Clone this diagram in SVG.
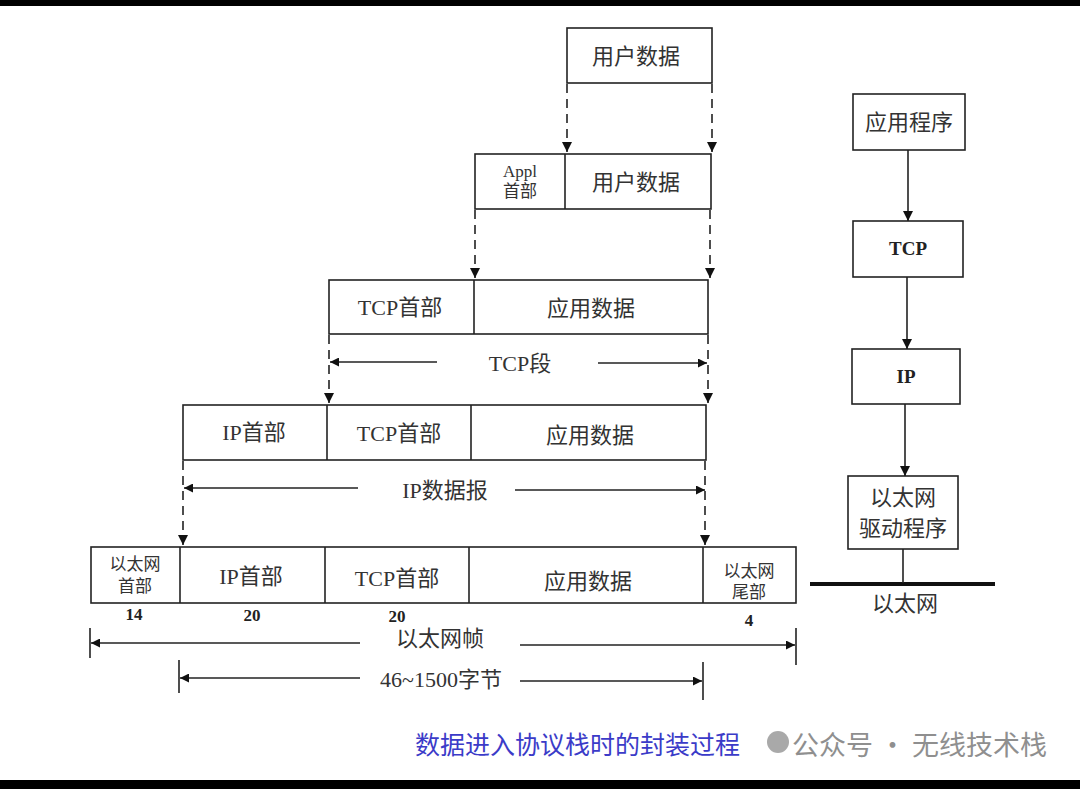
<svg xmlns="http://www.w3.org/2000/svg" width="1080" height="789" viewBox="0 0 1080 789">
<style>
.b{fill:#fff;stroke:#222;stroke-width:1.6}
.d{stroke:#222;stroke-width:1.6;fill:none}
.ds{stroke:#222;stroke-width:1.6;stroke-dasharray:9 6;fill:none}
.t{font-family:"Liberation Serif","Noto Sans CJK SC",serif;font-size:22px;fill:#333;text-anchor:middle}
.s{font-size:17px}
.n{font-weight:bold;font-size:17px;fill:#222}
</style>
<defs>
<marker id="ah" viewBox="0 0 10 10" refX="10" refY="5" markerWidth="15" markerHeight="9" markerUnits="userSpaceOnUse" orient="auto"><path d="M0,0L10,5L0,10z" fill="#111"/></marker>
<marker id="av" viewBox="0 0 10 10" refX="10" refY="5" markerWidth="16" markerHeight="10" markerUnits="userSpaceOnUse" orient="auto"><path d="M0,0L10,5L0,10z" fill="#111"/></marker>
</defs>
<rect x="0" y="0" width="1080" height="789" fill="#fff"/>
<rect x="0" y="0" width="1080" height="6" fill="#000"/>
<rect x="0" y="780" width="1080" height="9" fill="#000"/>

<g id="user-data">
<rect class="b" x="567" y="28" width="145" height="55"/>
<text class="t" x="636" y="64">用户数据</text>
</g>
<g id="appl-segment">
<rect class="b" x="475" y="154" width="236" height="55"/>
<line class="d" x1="565" y1="154" x2="565" y2="209"/>
<text class="t s" x="520" y="177">Appl</text>
<text class="t s" x="520" y="197">首部</text>
<text class="t" x="636" y="190">用户数据</text>
</g>
<g id="tcp-segment">
<rect class="b" x="329" y="280" width="379" height="54"/>
<line class="d" x1="474" y1="280" x2="474" y2="334"/>
<text class="t" x="400" y="315">TCP首部</text>
<text class="t" x="591" y="316">应用数据</text>
</g>
<g id="ip-datagram">
<rect class="b" x="183" y="405" width="523" height="55"/>
<line class="d" x1="327" y1="405" x2="327" y2="460"/>
<line class="d" x1="471" y1="405" x2="471" y2="460"/>
<text class="t" x="254" y="440">IP首部</text>
<text class="t" x="399" y="441">TCP首部</text>
<text class="t" x="590" y="443">应用数据</text>
</g>
<g id="ethernet-frame">
<rect class="b" x="91" y="547" width="705" height="56"/>
<line class="d" x1="180" y1="547" x2="180" y2="603"/>
<line class="d" x1="325" y1="547" x2="325" y2="603"/>
<line class="d" x1="469" y1="547" x2="469" y2="603"/>
<line class="d" x1="703" y1="547" x2="703" y2="603"/>
<text class="t s" x="135" y="570">以太网</text>
<text class="t s" x="135" y="592">首部</text>
<text class="t" x="251" y="584">IP首部</text>
<text class="t" x="397" y="586">TCP首部</text>
<text class="t" x="588" y="589">应用数据</text>
<text class="t s" x="749" y="577">以太网</text>
<text class="t s" x="749" y="598">尾部</text>
<text class="t n" x="134" y="620">14</text>
<text class="t n" x="252" y="621">20</text>
<text class="t n" x="397" y="622">20</text>
<text class="t n" x="749" y="626">4</text>
</g>
<g id="labels">
<text class="t" x="520" y="371">TCP段</text>
<text class="t" x="445" y="498">IP数据报</text>
<text class="t" x="440" y="646">以太网帧</text>
<text class="t" x="441" y="687">46~1500字节</text>
</g>

<g id="stack-app"><rect class="b" x="853" y="94" width="112" height="56"/><text class="t" x="909" y="130">应用程序</text></g>
<g id="stack-tcp"><rect class="b" x="853" y="221" width="110" height="56"/><text class="t n" x="908" y="255" style="font-size:19px">TCP</text></g>
<g id="stack-ip"><rect class="b" x="852" y="349" width="108" height="55"/><text class="t n" x="906" y="383" style="font-size:19px">IP</text></g>
<g id="stack-eth"><rect class="b" x="848" y="476" width="110" height="73"/><text class="t" x="903" y="505">以太网</text><text class="t" x="903" y="536">驱动程序</text></g>
<g id="ethernet-bus"><line x1="810" y1="584" x2="995" y2="584" stroke="#111" stroke-width="4"/><text class="t" x="905" y="611">以太网</text></g>

<g id="connectors">
<line class="ds" x1="567" y1="84" x2="567" y2="152" marker-end="url(#av)"/>
<line class="ds" x1="712" y1="84" x2="712" y2="152" marker-end="url(#av)"/>
<line class="ds" x1="475" y1="210" x2="475" y2="278" marker-end="url(#av)"/>
<line class="ds" x1="710" y1="210" x2="710" y2="278" marker-end="url(#av)"/>
<line class="ds" x1="329" y1="335" x2="329" y2="403" marker-end="url(#av)"/>
<line class="ds" x1="708" y1="335" x2="708" y2="403" marker-end="url(#av)"/>
<line class="ds" x1="183" y1="461" x2="183" y2="545" marker-end="url(#av)"/>
<line class="ds" x1="705" y1="461" x2="705" y2="545" marker-end="url(#av)"/>

<line class="d" x1="437" y1="362" x2="330" y2="362" marker-end="url(#ah)"/>
<line class="d" x1="598" y1="363" x2="707" y2="363" marker-end="url(#ah)"/>
<line class="d" x1="358" y1="488" x2="184" y2="488" marker-end="url(#ah)"/>
<line class="d" x1="515" y1="490" x2="705" y2="490" marker-end="url(#ah)"/>
<line class="d" x1="90" y1="628" x2="90" y2="658"/>
<line class="d" x1="360" y1="643" x2="91" y2="643" marker-end="url(#ah)"/>
<line class="d" x1="520" y1="645" x2="795" y2="645" marker-end="url(#ah)"/>
<line class="d" x1="796" y1="628" x2="796" y2="665"/>
<line class="d" x1="179" y1="660" x2="179" y2="693"/>
<line class="d" x1="360" y1="678" x2="180" y2="678" marker-end="url(#ah)"/>
<line class="d" x1="520" y1="681" x2="702" y2="681" marker-end="url(#ah)"/>
<line class="d" x1="703" y1="662" x2="703" y2="700"/>

<line class="d" x1="908" y1="150" x2="908" y2="221" marker-end="url(#av)"/>
<line class="d" x1="907" y1="277" x2="907" y2="349" marker-end="url(#av)"/>
<line class="d" x1="905" y1="404" x2="905" y2="476" marker-end="url(#av)"/>
<line class="d" x1="903" y1="549" x2="903" y2="583"/>
</g>

<g id="caption">
<text x="415" y="754" style="font-family:'Noto Sans CJK SC',sans-serif;font-size:25px;fill:#3b3bc8">数据进入协议栈时的封装过程</text>
<circle cx="778" cy="742" r="11" fill="#9a9a9a" opacity="0.85"/>
<text x="792" y="755" style="font-family:'Noto Sans CJK SC',sans-serif;font-size:27px;fill:#8f8f8f">公众号 · 无线技术栈</text>
</g>
</svg>
